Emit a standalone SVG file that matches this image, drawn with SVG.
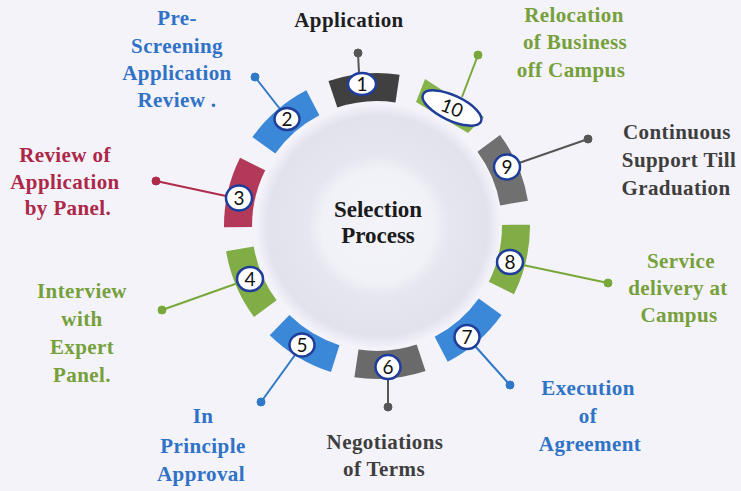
<svg xmlns="http://www.w3.org/2000/svg" xmlns:xlink="http://www.w3.org/1999/xlink" width="741" height="491" viewBox="0 0 741 491">
<defs>
<radialGradient id="ringGrad" cx="378" cy="226" r="122" gradientUnits="userSpaceOnUse">
<stop offset="0" stop-color="#f3f3f9"/>
<stop offset="0.46" stop-color="#f1f1f8"/>
<stop offset="0.58" stop-color="#e6e6ef"/>
<stop offset="0.9" stop-color="#e2e2ec"/>
<stop offset="1" stop-color="#f3f2fa"/>
</radialGradient>
<path id="seg" d="M-35.7,-148.8 A153,153 0 0 1 35.7,-148.8 L29.2,-121.5 A125,125 0 0 0 -29.2,-121.5 Z"/>
<style>
.lbl{font-family:"Liberation Serif","Times New Roman",serif;font-weight:bold;font-size:21px;letter-spacing:0.4px;text-anchor:middle}
.ctr{font-family:"Liberation Serif","Times New Roman",serif;font-weight:bold;font-size:23px;text-anchor:middle;fill:#1b1b1b}
.num{font-family:Lato,"Liberation Sans",sans-serif;font-size:19px;text-anchor:middle;fill:#111}
.badge{fill:#ffffff;stroke:#1f3d9a;stroke-width:2.5}
.blue{fill:#2f72c6}
.green{fill:#76a03a}
.red{fill:#ad2848}
.dark{fill:#3e3e3e}
.sblue{fill:#3b88d8}
.sgreen{fill:#80ad45}
.sred{fill:#b23a58}
.cn{stroke-width:2;fill:none}
</style>
</defs>
<rect width="741" height="491" fill="#f4f3fa"/>
<g id="center">
<circle cx="378" cy="226" r="122" fill="url(#ringGrad)"/>
<text class="ctr" x="378" y="217">Selection</text>
<text class="ctr" x="378" y="243">Process</text>
</g>
<g id="connectors">
<g stroke="#555555" fill="#555555">
<line class="cn" x1="359" y1="73" x2="358" y2="53"/><circle cx="358" cy="53" r="4"/>
<line class="cn" x1="388" y1="379" x2="388" y2="407"/><circle cx="388" cy="407" r="4"/>
<line class="cn" x1="519" y1="163" x2="588" y2="139"/><circle cx="588" cy="139" r="4"/>
</g>
<g stroke="#2f78c8" fill="#2f78c8">
<line class="cn" x1="280" y1="109" x2="255" y2="77"/><circle cx="255" cy="77" r="4"/>
<line class="cn" x1="295" y1="355" x2="261" y2="402"/><circle cx="261" cy="402" r="4"/>
<line class="cn" x1="475" y1="346" x2="510" y2="385"/><circle cx="510" cy="385" r="4"/>
</g>
<g stroke="#b02a4a" fill="#b02a4a">
<line class="cn" x1="226" y1="196" x2="156" y2="181"/><circle cx="156" cy="181" r="4"/>
</g>
<g stroke="#79a83a" fill="#79a83a">
<line class="cn" x1="238" y1="283" x2="162" y2="310"/><circle cx="162" cy="310" r="4"/>
<line class="cn" x1="523" y1="265" x2="608" y2="283"/><circle cx="608" cy="283" r="4"/>
<line class="cn" x1="462" y1="97" x2="478" y2="55"/><circle cx="478" cy="55" r="4"/>
</g>
</g>
<g id="node1">
<use xlink:href="#seg" transform="translate(377,226) rotate(-5)" fill="#404040"/>
<ellipse class="badge" cx="362" cy="84" rx="14" ry="11"/>
<text class="num" x="362" y="90.5">1</text>
<text class="lbl" x="349" y="27" fill="#1e1e1e">Application</text>
</g>
<g id="node2">
<use xlink:href="#seg" class="sblue" transform="translate(377,226) rotate(-41)"/>
<ellipse class="badge" cx="287" cy="119" rx="12.5" ry="11"/>
<text class="num" x="287" y="125.5">2</text>
<text class="lbl blue" x="177" y="25">Pre-</text>
<text class="lbl blue" x="177" y="53">Screening</text>
<text class="lbl blue" x="177" y="80">Application</text>
<text class="lbl blue" x="177" y="107">Review .</text>
</g>
<g id="node3">
<use xlink:href="#seg" class="sred" transform="translate(377,226) rotate(-77)"/>
<ellipse class="badge" cx="239" cy="198" rx="13" ry="12.5"/>
<text class="num" x="239" y="204.5">3</text>
<text class="lbl red" x="65" y="162">Review of</text>
<text class="lbl red" x="65" y="189">Application</text>
<text class="lbl red" x="68" y="215">by Panel.</text>
</g>
<g id="node4">
<use xlink:href="#seg" class="sgreen" transform="translate(377,226) rotate(-113)"/>
<ellipse class="badge" cx="250" cy="279" rx="13" ry="12"/>
<text class="num" x="250" y="285.5">4</text>
<text class="lbl green" x="82" y="298">Interview</text>
<text class="lbl green" x="82" y="326">with</text>
<text class="lbl green" x="82" y="354">Expert</text>
<text class="lbl green" x="82" y="382">Panel.</text>
</g>
<g id="node5">
<use xlink:href="#seg" class="sblue" transform="translate(377,226) rotate(-149)"/>
<ellipse class="badge" cx="302" cy="345" rx="12.5" ry="11.5"/>
<text class="num" x="302" y="351.5">5</text>
<text class="lbl blue" x="203" y="423">In</text>
<text class="lbl blue" x="203" y="453">Principle</text>
<text class="lbl blue" x="201" y="481">Approval</text>
</g>
<g id="node6">
<use xlink:href="#seg" transform="translate(377,226) rotate(175)" fill="#6a6a6a"/>
<ellipse class="badge" cx="388" cy="367" rx="12.5" ry="12"/>
<text class="num" x="388" y="373.5">6</text>
<text class="lbl dark" x="385" y="449">Negotiations</text>
<text class="lbl dark" x="384" y="476">of Terms</text>
</g>
<g id="node7">
<use xlink:href="#seg" class="sblue" transform="translate(377,226) rotate(139)"/>
<ellipse class="badge" cx="467" cy="337" rx="12.5" ry="12"/>
<text class="num" x="467" y="343.5">7</text>
<text class="lbl blue" x="588" y="395">Execution</text>
<text class="lbl blue" x="588" y="423">of</text>
<text class="lbl blue" x="590" y="451">Agreement</text>
</g>
<g id="node8">
<use xlink:href="#seg" class="sgreen" transform="translate(377,226) rotate(103)"/>
<ellipse class="badge" cx="510" cy="262" rx="13" ry="12"/>
<text class="num" x="510" y="268.5">8</text>
<text class="lbl green" x="681" y="268">Service</text>
<text class="lbl green" x="678" y="295">delivery at</text>
<text class="lbl green" x="679" y="322">Campus</text>
</g>
<g id="node9">
<use xlink:href="#seg" transform="translate(377,226) rotate(67)" fill="#707070"/>
<ellipse class="badge" cx="507" cy="167" rx="13" ry="12.5"/>
<text class="num" x="507" y="173.5">9</text>
<text class="lbl dark" x="677" y="139">Continuous</text>
<text class="lbl dark" x="679" y="167">Support Till</text>
<text class="lbl dark" x="676" y="195">Graduation</text>
</g>
<g id="node10">
<polygon points="425,79 484,117 468,133 416,102" fill="#86b44a"/>
<ellipse class="badge" cx="452" cy="108" rx="32" ry="12.5" transform="rotate(25 452 108)"/>
<text class="num" x="452" y="114.5" transform="rotate(22 452 108)">10</text>
<text class="lbl green" x="574" y="22">Relocation</text>
<text class="lbl green" x="575" y="49">of Business</text>
<text class="lbl green" x="571" y="77">off Campus</text>
</g>
</svg>
